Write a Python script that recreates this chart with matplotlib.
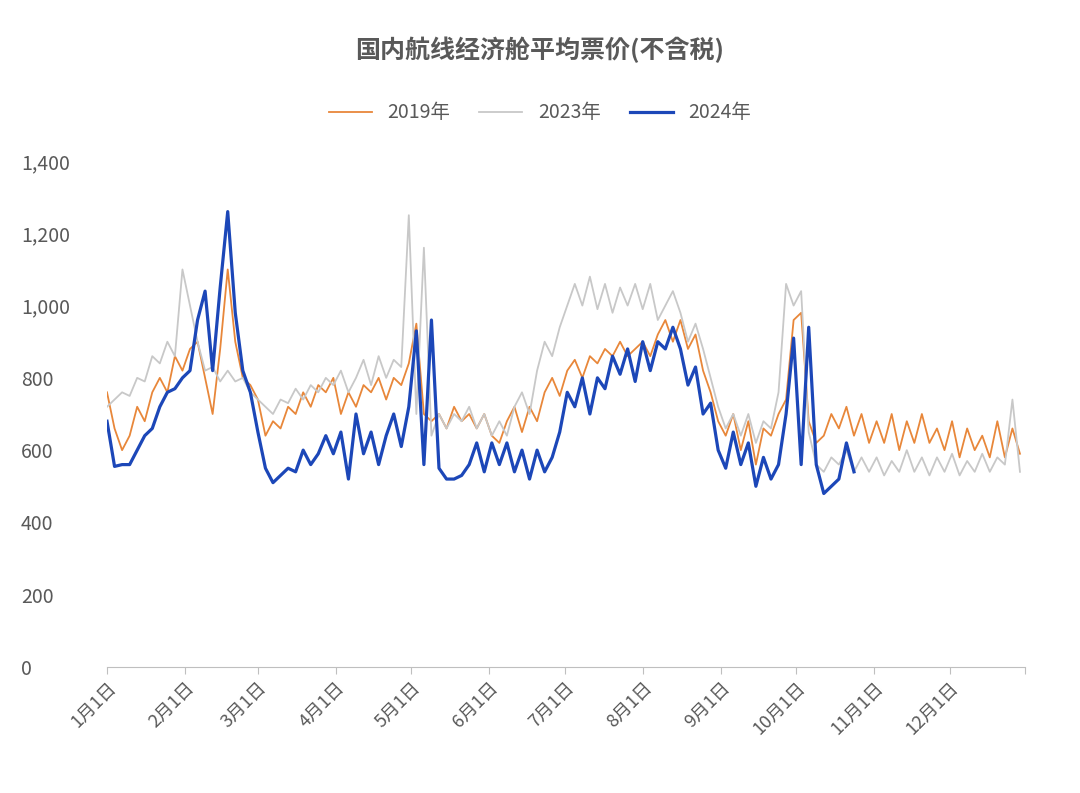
import matplotlib.pyplot as plt
import numpy as np

plt.rcParams['font.family'] = ['Noto Sans CJK JP', 'Noto Sans CJK SC', 'Noto Sans CJK TC', 'DejaVu Sans']

# sampled every 3 days from Jan 1
y2019 = [760, 660, 600, 640, 720, 680, 760, 800, 760, 860, 820, 880, 900, 800, 700, 880, 1100, 900, 800, 780,
         740, 640, 680, 660, 720, 700, 760, 720, 780, 760, 800, 700, 760, 720, 780, 760, 800, 740, 800, 780,
         840, 950, 700, 680, 700, 660, 720, 680, 700, 660, 700, 640, 620, 680, 720, 650, 720, 680, 760, 800,
         750, 820, 850, 800, 860, 840, 880, 860, 900, 860, 880, 900, 860, 920, 960, 900, 960, 880, 920, 820,
         760, 680, 640, 700, 600, 680, 560, 660, 640, 700, 740, 960, 980, 680, 620, 640, 700, 660, 720, 640,
         700, 620, 680, 620, 700, 600, 680, 620, 700, 620, 660, 600, 680, 580, 660, 600, 640, 580, 680, 580,
         660, 590]
y2023 = [720, 740, 760, 750, 800, 790, 860, 840, 900, 860, 1100, 1000, 900, 820, 830, 790, 820, 790, 800, 760,
         740, 720, 700, 740, 730, 770, 740, 780, 760, 800, 780, 820, 760, 800, 850, 780, 860, 800, 850, 830,
         1250, 700, 1160, 640, 700, 660, 700, 680, 720, 660, 700, 640, 680, 640, 720, 760, 700, 820, 900, 860,
         940, 1000, 1060, 1000, 1080, 990, 1060, 980, 1050, 1000, 1060, 990, 1060, 960, 1000, 1040, 980, 900, 950, 880,
         800, 720, 660, 700, 640, 700, 620, 680, 660, 760, 1060, 1000, 1040, 650, 560, 540, 580, 560, 600, 540,
         580, 540, 580, 530, 570, 540, 600, 540, 580, 530, 580, 540, 590, 530, 570, 540, 590, 540, 580, 560,
         740, 540]
y2024 = [680, 555, 560, 560, 600, 640, 660, 720, 760, 770, 800, 820, 960, 1040, 820, 1050, 1260, 980, 820, 760,
         650, 550, 510, 530, 550, 540, 600, 560, 590, 640, 590, 650, 520, 700, 590, 650, 560, 640, 700, 610,
         720, 930, 560, 960, 550, 520, 520, 530, 560, 620, 540, 620, 560, 620, 540, 600, 520, 600, 540, 580,
         650, 760, 720, 800, 700, 800, 770, 860, 810, 880, 790, 900, 820, 900, 880, 940, 880, 780, 830, 700,
         730, 600, 550, 650, 560, 620, 500, 580, 520, 560, 700, 910, 560, 940, 560, 480, 500, 520, 620, 540]

month_days = [0, 31, 60, 91, 121, 152, 182, 213, 244, 274, 305, 335]
month_labels = [f'{m}月1日' for m in range(1, 13)]

fig = plt.figure(figsize=(10.8, 7.93), dpi=100)
ax = fig.add_axes([107/1080, 1-667/793, 918/1080, 506/793])

ax.plot(np.arange(len(y2019))*3, y2019, color='#E8873A', lw=1.3, label='2019年')
ax.plot(np.arange(len(y2023))*3, y2023, color='#C8C8C8', lw=1.3, label='2023年')
ax.plot(np.arange(len(y2024))*3, y2024, color='#1C47B8', lw=2.3, label='2024年')

ax.set_xlim(0, 365)
ax.set_ylim(0, 1400)
ax.set_yticks(range(0, 1401, 200))
ax.set_yticklabels([f'{v:,}' for v in range(0, 1401, 200)])
ax.set_xticks(month_days + [365])
ax.set_xticklabels(month_labels + [''], rotation=45, ha='right', rotation_mode='anchor')
ax.tick_params(axis='y', length=0, labelsize=14, colors='#595959', pad=62)
ax.tick_params(axis='x', length=5, color='#BFBFBF', labelsize=13, colors='#595959')
for s in ['top', 'right', 'left']:
    ax.spines[s].set_visible(False)
ax.spines['bottom'].set_color('#BFBFBF')
for lbl in ax.get_yticklabels():
    lbl.set_horizontalalignment('left')

fig.text(0.5, 1-50/793, '国内航线经济舱平均票价(不含税)', ha='center', va='center',
         fontsize=18, fontweight='bold', color='#595959')
fig.legend(loc='center', bbox_to_anchor=(0.5, 1-113/793), ncol=3, frameon=False,
           fontsize=14, labelcolor='#595959', handlelength=2.2, columnspacing=1.5)

fig.savefig('out.png', dpi=100, facecolor='white')
